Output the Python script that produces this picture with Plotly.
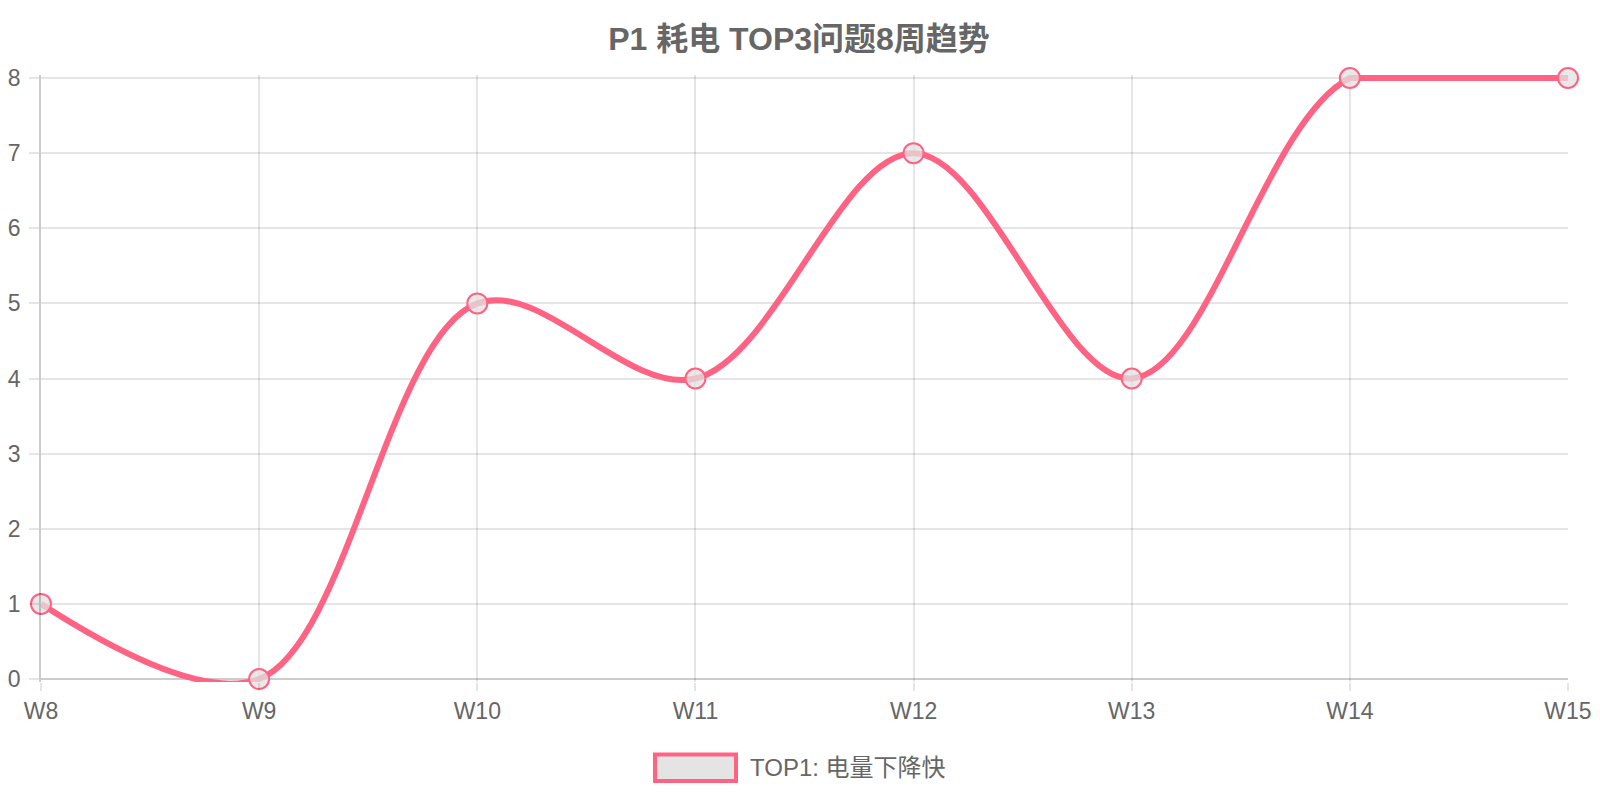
import plotly.graph_objects as go

# data
weeks = ['W8', 'W9', 'W10', 'W11', 'W12', 'W13', 'W14', 'W15']
counts = [1, 0, 5, 4, 7, 4, 8, 8]
series_name = 'TOP1: 电量下降快'
title_text = 'P1 耗电 TOP3问题8周趋势'

pink = 'rgb(255,99,132)'
grid = 'rgba(0,0,0,0.1)'
axis_col = 'rgba(0,0,0,0.2)'
txt = '#666666'
fnt = 'Liberation Sans, Arial, Noto Sans CJK SC, sans-serif'

W, H = 1600, 800
# plot box in figure pixels
x_left, x_right = 33, 1560
y_top_val, y_zero = 69.6, 670.6          # pixel rows of 8 and 0
ppu = (y_zero - y_top_val) / 8
pad_top, pad_bot = 3.0, 3.0               # keep the curve's overshoot cut at the edges
y_min = 0 - pad_bot / ppu
y_max = 8 + pad_top / ppu
m_t = y_top_val - pad_top
m_b = H - (y_zero + pad_bot)


def px(x):
    return (x - x_left) / (x_right - x_left)


def py(y):
    return (H - m_b - y) / (H - m_b - m_t)


fig = go.Figure()
fig.add_trace(go.Scatter(
    x=weeks, y=counts, name=series_name, mode='lines',
    line=dict(color=pink, width=6, shape='spline', smoothing=1.0),
    showlegend=False, hoverinfo='skip',
))
# flat last step (the original chart keeps it level)
fig.add_trace(go.Scatter(
    x=weeks[-2:], y=counts[-2:], mode='lines',
    line=dict(color=pink, width=6), showlegend=False, hoverinfo='skip',
))
fig.add_trace(go.Scatter(
    x=weeks, y=counts, name=series_name, mode='markers',
    marker=dict(size=20, color='rgba(225,225,225,0.75)',
                line=dict(color=pink, width=2)),
    showlegend=False, cliponaxis=False,
))

fig.update_layout(
    width=W, height=H,
    paper_bgcolor='white', plot_bgcolor='white',
    margin=dict(l=x_left, r=W - x_right, t=m_t, b=m_b),
    font=dict(family=fnt, size=23, color=txt),
    title=dict(text='<b>' + title_text + '</b>', xref='paper', x=px(791),
               xanchor='center', y=1 - 31 / H, yanchor='middle',
               font=dict(size=32, color=txt)),
    xaxis=dict(
        range=[0, len(weeks) - 1], showgrid=True, gridcolor=grid, gridwidth=1.5,
        ticks='outside', ticklen=8, tickcolor=grid, tickwidth=1.5, zeroline=False,
        showline=False, automargin=False, tickfont=dict(size=23, color=txt),
    ),
    yaxis=dict(
        range=[y_min, y_max], tickvals=list(range(0, 9)),
        showgrid=True, gridcolor=grid, gridwidth=1.5,
        ticks='outside', ticklen=10, tickcolor=grid, tickwidth=1.5, zeroline=True,
        zerolinecolor=axis_col, zerolinewidth=1.5,
        showline=True, linecolor=axis_col, linewidth=1.5,
        automargin=False, ticklabelstandoff=4,
        tickfont=dict(size=23, color=txt),
    ),
)

# legend drawn like a filled box with pink border
fig.add_shape(type='rect', xref='paper', yref='paper',
              x0=px(647), x1=px(728), y0=py(772.5), y1=py(746),
              line=dict(color=pink, width=4), fillcolor='rgba(228,228,228,1)')
fig.add_annotation(text=series_name, xref='paper', yref='paper',
                   x=px(740), y=py(759.5),
                   xanchor='left', yanchor='middle', showarrow=False,
                   font=dict(size=24, color=txt))

fig.write_html('out.html')
